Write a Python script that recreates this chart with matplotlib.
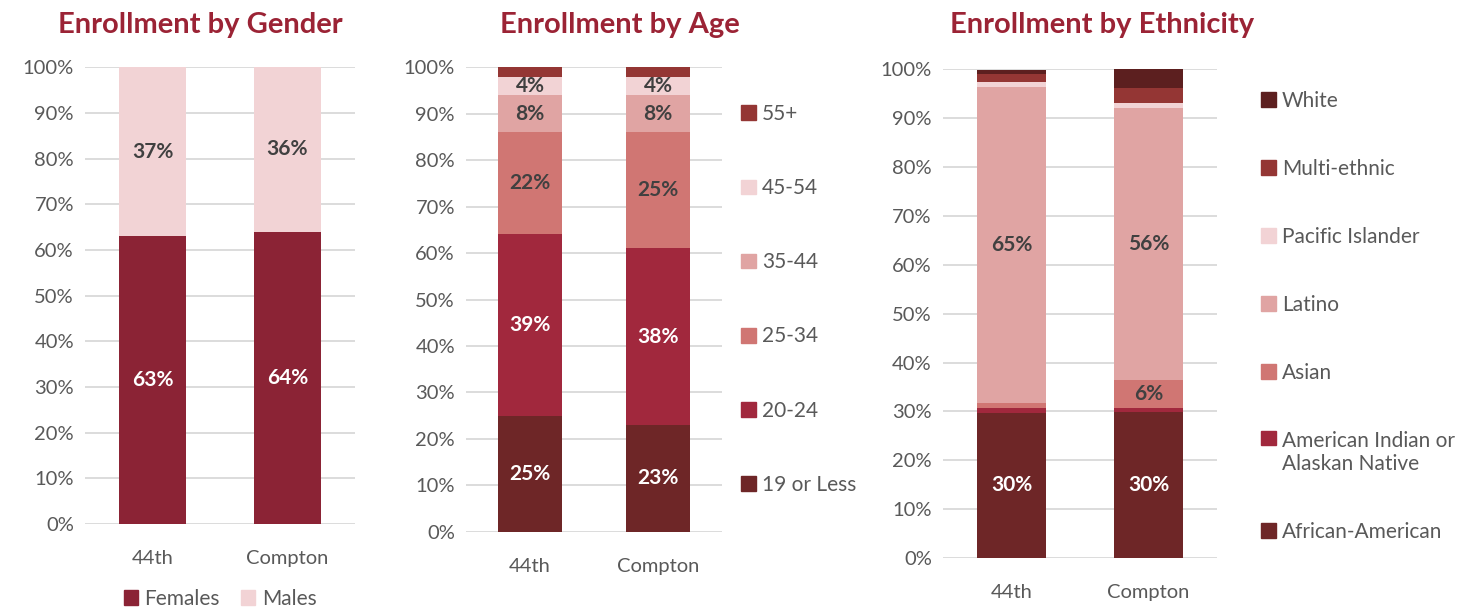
import matplotlib.pyplot as plt
from matplotlib.patches import Patch

plt.rcParams['font.family'] = ['Lato', 'DejaVu Sans']

# data
schools = ['44th', 'Compton']

gender_labels = ['Females', 'Males']
females = [63, 64]
males = [37, 36]

age_labels = ['19 or Less', '20-24', '25-34', '35-44', '45-54', '55+']
age_19 = [25, 23]
age_20 = [39, 38]
age_25 = [22, 25]
age_35 = [8, 8]
age_45 = [4, 4]
age_55 = [2, 2]

eth_labels = ['African-American', 'American Indian or\nAlaskan Native', 'Asian',
              'Latino', 'Pacific Islander', 'Multi-ethnic', 'White']
african_american = [29.7, 29.8]
american_indian = [1.0, 1.0]
asian = [1.0, 5.6]
latino = [64.6, 55.6]
pacific = [1.0, 1.2]
multi = [1.8, 2.9]
white = [0.7, 3.9]

# which segments get a label
age_show = [True, True, True, True, True, False]
eth_show = [[True, True], [False, False], [False, True], [True, True],
            [False, False], [False, False], [False, False]]

# colours
c_female = '#8B2335'
c_light = '#F2D3D5'
age_colors = ['#6E2627', '#A1283D', '#D07673', '#E0A4A3', '#F2D3D5', '#943634']
eth_colors = ['#6E2627', '#A1283D', '#D07673', '#E0A4A3', '#F2D3D5', '#943634', '#5C1F1F']
title_color = '#9B2335'
tick_color = '#595959'
dark_text = '#404040'
dark_fills = ['#6E2627', '#A1283D', '#8B2335', '#943634', '#5C1F1F']

fig = plt.figure(figsize=(14.81, 6.09), dpi=100)


def style_axis(ax):
    ax.set_ylim(0, 100)
    ax.set_xlim(-0.5, 1.5)
    ax.set_yticks(range(0, 101, 10))
    ax.set_yticklabels([f'{v}%' for v in range(0, 101, 10)])
    ax.set_xticks([0, 1])
    ax.set_xticklabels(schools)
    ax.tick_params(length=0, labelsize=14.5, labelcolor=tick_color, pad=8)
    ax.tick_params(axis='x', pad=19)
    for s in ax.spines.values():
        s.set_visible(False)
    ax.yaxis.grid(True, color='#D9D9D9', linewidth=1.3)
    ax.set_axisbelow(True)


def stack(ax, series, colors, show):
    bottom = [0, 0]
    for vals, col, sh in zip(series, colors, show):
        ax.bar([0, 1], vals, width=0.5, bottom=bottom, color=col)
        txt_col = 'white' if col in dark_fills else dark_text
        for i in range(2):
            if sh[i]:
                ax.text(i, bottom[i] + vals[i] / 2, f'{round(vals[i])}%', ha='center',
                        va='center', fontsize=15, fontweight='bold', color=txt_col)
        bottom = [b + v for b, v in zip(bottom, vals)]


leg_kw = dict(frameon=False, fontsize=15, labelcolor=tick_color, handlelength=0.7,
              handleheight=0.7, handletextpad=0.3, borderpad=0, borderaxespad=0)

# gender
ax1 = fig.add_axes([0.0574, 0.1396, 0.1823, 0.750])
style_axis(ax1)
stack(ax1, [females, males], [c_female, c_light], [[True, True], [True, True]])
ax1.legend(handles=[Patch(color=c, label=l) for c, l in zip([c_female, c_light], gender_labels)],
           loc='center', bbox_to_anchor=(220 / 1481, 1 - 599 / 609), bbox_transform=fig.transFigure,
           ncol=2, columnspacing=1.0, **leg_kw)
fig.text(200 / 1481, 1 - 25 / 609, 'Enrollment by Gender', ha='center', va='center',
         fontsize=21, fontweight='bold', color=title_color)

# age
ax2 = fig.add_axes([0.3147, 0.1269, 0.1729, 0.7626])
style_axis(ax2)
age_series = [age_19, age_20, age_25, age_35, age_45, age_55]
stack(ax2, age_series, age_colors, [[s, s] for s in age_show])
h = [Patch(color=c, label=l) for c, l in zip(age_colors, age_labels)][::-1]
ax2.legend(handles=h, loc='upper left', bbox_to_anchor=(741 / 1481, 1 - 104 / 609),
           bbox_transform=fig.transFigure, labelspacing=2.6, **leg_kw)
fig.text(620 / 1481, 1 - 25 / 609, 'Enrollment by Age', ha='center', va='center',
         fontsize=21, fontweight='bold', color=title_color)

# ethnicity
ax3 = fig.add_axes([0.6367, 0.0837, 0.185, 0.8025])
style_axis(ax3)
eth_series = [african_american, american_indian, asian, latino, pacific, multi, white]
stack(ax3, eth_series, eth_colors, eth_show)
h = [Patch(color=c, label=l) for c, l in zip(eth_colors, eth_labels)][::-1]
leg = ax3.legend(handles=h, loc='upper left', bbox_to_anchor=(1261 / 1481, 1 - 91 / 609),
                 bbox_transform=fig.transFigure, labelspacing=2.3, **leg_kw)
# keep the marker next to the first line of the two-line label
for item in leg._legend_handle_box.get_children()[0].get_children():
    if '\n' in item.get_children()[1].get_text():
        item.align = 'top'
fig.text(1102 / 1481, 1 - 25 / 609, 'Enrollment by Ethnicity', ha='center', va='center',
         fontsize=21, fontweight='bold', color=title_color)

fig.savefig('out.png', dpi=100)
